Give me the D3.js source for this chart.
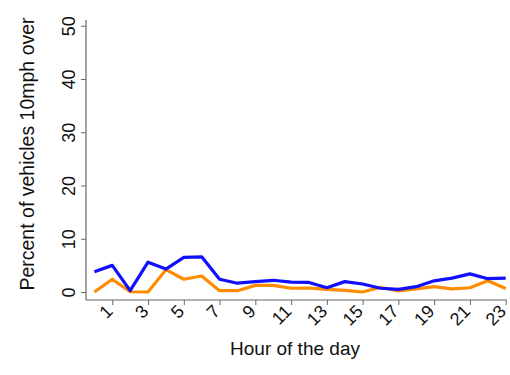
<!DOCTYPE html>
<html><head><meta charset="utf-8">
<script src="https://cdn.jsdelivr.net/npm/d3@7"></script>
<style>body{margin:0;background:#fff;} text{font-family:"Liberation Sans",Arial,sans-serif;fill:#111;}</style>
</head><body>
<svg id="c" width="510" height="375"></svg>
<script>
const hours = d3.range(0,24);
const blueSeries = [3.8,5.0,0.25,5.6,4.3,6.5,6.6,2.4,1.65,1.95,2.2,1.85,1.8,0.8,1.95,1.5,0.7,0.5,1.0,2.1,2.6,3.4,2.5,2.6];
const orangeSeries = [0,2.4,0.05,0,4.2,2.4,3.0,0.25,0.25,1.25,1.25,0.7,0.75,0.5,0.3,0,0.9,0.2,0.6,1.0,0.6,0.8,2.1,0.65];
const yTicks = [0,10,20,30,40,50];
const xTicks = [1,3,5,7,9,11,13,15,17,19,21,23];

const svg = d3.select("#c");
const x = d3.scaleLinear().domain([0,23]).range([94.4,505.7]);
const y = d3.scaleLinear().domain([0,50]).range([292,25.7]);
const axisColor = "#666";

// y axis
const ya = svg.append("g").attr("transform","translate(86,0)")
  .call(d3.axisLeft(y).tickValues(yTicks).tickSize(5).tickSizeOuter(0).tickPadding(6));
ya.select(".domain").remove();
ya.selectAll(".tick line").attr("stroke",axisColor);
ya.selectAll(".tick text").attr("font-size",18).attr("text-anchor","middle")
  .attr("transform","rotate(-90)").attr("x",0).attr("y",-17).attr("dy","0.35em");
svg.append("line").attr("x1",86).attr("x2",86).attr("y1",20).attr("y2",300).attr("stroke",axisColor).attr("stroke-width",1.2);

// x axis
const xa = svg.append("g").attr("transform","translate(0,300)")
  .call(d3.axisBottom(x).tickValues(xTicks).tickSize(5).tickSizeOuter(0).tickFormat(d3.format("d")));
xa.select(".domain").remove();
xa.selectAll(".tick line").attr("stroke",axisColor);
xa.selectAll(".tick text").attr("font-size",18).attr("text-anchor","end")
  .attr("transform","translate(-3.5,8) rotate(-45)").attr("x",0).attr("y",0).attr("dy","0.35em");
svg.append("line").attr("x1",86).attr("x2",507).attr("y1",300).attr("y2",300).attr("stroke",axisColor).attr("stroke-width",1.2);

// lines
const line = d3.line().x((d,i)=>x(hours[i])).y(d=>y(d));
svg.append("path").datum(orangeSeries).attr("d",line).attr("fill","none").attr("stroke","#ff8c00").attr("stroke-width",3.2).attr("stroke-linejoin","round");
svg.append("path").datum(blueSeries).attr("d",line).attr("fill","none").attr("stroke","#1010ff").attr("stroke-width",3.2).attr("stroke-linejoin","round");

// titles
svg.append("text").attr("x",295).attr("y",355).attr("text-anchor","middle").attr("font-size",19).text("Hour of the day");
svg.append("text").attr("transform","translate(34,154) rotate(-90)").attr("text-anchor","middle").attr("font-size",19.5).text("Percent of vehicles 10mph over");
</script>
</body></html>
